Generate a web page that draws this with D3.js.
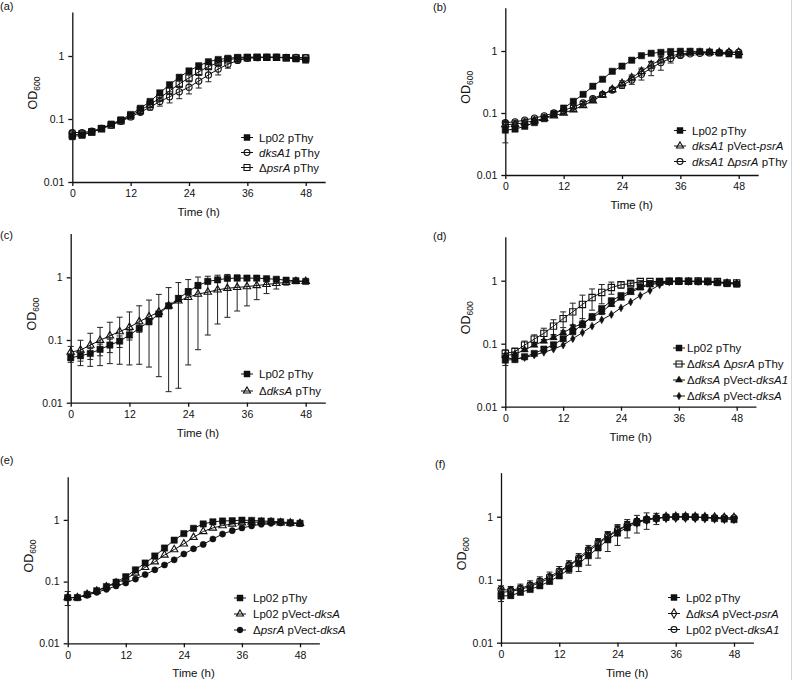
<!DOCTYPE html>
<html>
<head>
<meta charset="utf-8">
<script src="https://cdn.jsdelivr.net/npm/d3@7"></script>
<style>
  body { margin: 0; background: #fff; }
  svg { font-family: "Liberation Sans", Arial, sans-serif; }
</style>
</head>
<body>
<div id="chart"></div>
<script>
// sampling times (h)
const hours = [0, 2, 4, 6, 8, 10, 12, 14, 16, 18, 20, 22, 24, 26, 28, 30, 32, 34, 36, 38, 40, 42, 44, 46, 48];

// (a)
const aLabels = ["Lp02 pThy", "_dksA1_ pThy", "Δ_psrA_ pThy"];
const aLp02 = [0.053, 0.055, 0.062, 0.071, 0.083, 0.097, 0.118, 0.148, 0.19, 0.26, 0.35, 0.46, 0.58, 0.70, 0.81, 0.88, 0.92, 0.95, 0.96, 0.96, 0.96, 0.96, 0.93, 0.90, 0.86];
const aLp02Sd = [0.006, 0.004, 0.003, 0.003, 0.004, 0.005, 0.006, 0.008, 0.01, 0.015, 0.02, 0.025, 0.03, 0.03, 0.03, 0.03, 0.03, 0.02, 0.02, 0.02, 0.02, 0.02, 0.02, 0.02, 0.02];
const aDksA1 = [0.061, 0.061, 0.064, 0.071, 0.08, 0.092, 0.108, 0.128, 0.154, 0.19, 0.225, 0.27, 0.32, 0.40, 0.50, 0.62, 0.74, 0.85, 0.92, 0.94, 0.95, 0.95, 0.95, 0.95, 0.94];
const aDksA1Sd = [0.005, 0.003, 0.003, 0.003, 0.004, 0.005, 0.006, 0.01, 0.015, 0.03, 0.045, 0.06, 0.07, 0.09, 0.11, 0.12, 0.1, 0.06, 0.03, 0.02, 0.02, 0.02, 0.02, 0.02, 0.02];
const aPsrA = [0.056, 0.058, 0.062, 0.07, 0.08, 0.094, 0.112, 0.138, 0.17, 0.215, 0.28, 0.36, 0.45, 0.56, 0.68, 0.79, 0.87, 0.92, 0.94, 0.95, 0.95, 0.95, 0.94, 0.93, 0.93];
const aPsrASd = [0.004, 0.003, 0.003, 0.003, 0.004, 0.005, 0.006, 0.01, 0.015, 0.02, 0.03, 0.04, 0.05, 0.05, 0.05, 0.04, 0.03, 0.02, 0.02, 0.02, 0.02, 0.02, 0.02, 0.02, 0.02];

// (b)
const bLabels = ["Lp02 pThy", "_dksA1_ pVect-_psrA_", "_dksA1_ Δ_psrA_ pThy"];
const bLp02 = [0.053, 0.055, 0.061, 0.07, 0.081, 0.097, 0.12, 0.154, 0.2, 0.27, 0.35, 0.47, 0.57, 0.71, 0.84, 0.92, 0.95, 0.98, 0.99, 0.99, 0.98, 0.96, 0.93, 0.90, 0.86];
const bLp02Sd = [0.02, 0.004, 0.003, 0.003, 0.004, 0.005, 0.006, 0.008, 0.01, 0.015, 0.02, 0.02, 0.02, 0.02, 0.02, 0.02, 0.02, 0.02, 0.02, 0.02, 0.02, 0.02, 0.02, 0.02, 0.02];
const bPvPsrA = [0.065, 0.066, 0.07, 0.075, 0.082, 0.09, 0.1, 0.113, 0.132, 0.158, 0.195, 0.24, 0.30, 0.37, 0.47, 0.60, 0.72, 0.83, 0.90, 0.93, 0.94, 0.95, 0.95, 0.95, 0.95];
const bPvPsrASd = [0.005, 0.003, 0.003, 0.003, 0.004, 0.005, 0.006, 0.007, 0.008, 0.01, 0.015, 0.02, 0.03, 0.04, 0.06, 0.08, 0.08, 0.06, 0.04, 0.02, 0.02, 0.02, 0.02, 0.02, 0.02];
const bDblPsrA = [0.07, 0.072, 0.077, 0.083, 0.09, 0.1, 0.11, 0.125, 0.145, 0.17, 0.2, 0.235, 0.28, 0.34, 0.42, 0.53, 0.65, 0.76, 0.85, 0.90, 0.92, 0.93, 0.94, 0.95, 0.96];
const bDblPsrASd = [0.005, 0.003, 0.003, 0.003, 0.004, 0.005, 0.006, 0.007, 0.008, 0.01, 0.015, 0.02, 0.03, 0.05, 0.08, 0.13, 0.16, 0.12, 0.06, 0.03, 0.02, 0.02, 0.02, 0.02, 0.02];

// (c)
const cLabels = ["Lp02 pThy", "Δ_dksA_ pThy"];
const cLp02 = [0.052, 0.056, 0.061, 0.071, 0.083, 0.096, 0.12, 0.153, 0.196, 0.26, 0.35, 0.46, 0.59, 0.74, 0.86, 0.91, 0.96, 0.97, 0.97, 0.97, 0.95, 0.93, 0.90, 0.88, 0.86];
const cLp02Sd = [0.008, 0.01, 0.012, 0.015, 0.02, 0.02, 0.02, 0.02, 0.02, 0.02, 0.03, 0.05, 0.07, 0.08, 0.07, 0.06, 0.05, 0.04, 0.03, 0.03, 0.02, 0.02, 0.02, 0.02, 0.02];
const cDksA = [0.064, 0.069, 0.083, 0.099, 0.117, 0.136, 0.16, 0.196, 0.235, 0.28, 0.35, 0.42, 0.48, 0.54, 0.58, 0.63, 0.67, 0.69, 0.71, 0.74, 0.77, 0.80, 0.83, 0.86, 0.86];
const cDksASd = [0.015, 0.03, 0.045, 0.06, 0.075, 0.095, 0.12, 0.155, 0.198, 0.254, 0.335, 0.403, 0.44, 0.47, 0.46, 0.45, 0.44, 0.40, 0.36, 0.30, 0.22, 0.15, 0.08, 0.05, 0.03];

// (d)
const dLabels = ["Lp02 pThy", "Δ_dksA_ Δ_psrA_ pThy", "Δ_dksA_ pVect-_dksA1_", "Δ_dksA_ pVect-_dksA_"];
const dLp02 = [0.055, 0.056, 0.062, 0.07, 0.082, 0.096, 0.12, 0.155, 0.2, 0.27, 0.36, 0.48, 0.58, 0.69, 0.80, 0.90, 0.95, 0.98, 0.99, 0.98, 0.97, 0.96, 0.93, 0.90, 0.88];
const dLp02Sd = [0.01, 0.004, 0.004, 0.004, 0.005, 0.006, 0.008, 0.01, 0.015, 0.02, 0.03, 0.03, 0.03, 0.03, 0.03, 0.02, 0.02, 0.02, 0.02, 0.02, 0.02, 0.02, 0.02, 0.02, 0.02];
const dDblPsrA = [0.07, 0.075, 0.095, 0.118, 0.146, 0.19, 0.25, 0.32, 0.42, 0.54, 0.65, 0.78, 0.86, 0.90, 0.97, 0.97, 0.97, 0.98, 0.98, 0.98, 0.99, 0.98, 0.97, 0.92, 0.92];
const dDblPsrASd = [0.01, 0.01, 0.015, 0.02, 0.03, 0.05, 0.07, 0.12, 0.17, 0.2, 0.22, 0.17, 0.1, 0.06, 0.04, 0.03, 0.02, 0.02, 0.02, 0.02, 0.02, 0.02, 0.02, 0.02, 0.02];
const dPvDksA1 = [0.065, 0.068, 0.08, 0.095, 0.11, 0.125, 0.15, 0.18, 0.21, 0.26, 0.32, 0.42, 0.53, 0.65, 0.77, 0.86, 0.92, 0.96, 0.97, 0.97, 0.96, 0.95, 0.93, 0.92, 0.90];
const dPvDksA1Sd = [0.005, 0.004, 0.004, 0.005, 0.006, 0.008, 0.01, 0.015, 0.02, 0.025, 0.03, 0.03, 0.03, 0.03, 0.03, 0.02, 0.02, 0.02, 0.02, 0.02, 0.02, 0.02, 0.02, 0.02, 0.02];
const dPvDksA = [0.06, 0.057, 0.06, 0.066, 0.073, 0.082, 0.095, 0.12, 0.15, 0.19, 0.24, 0.29, 0.37, 0.46, 0.58, 0.70, 0.86, 0.95, 0.98, 0.97, 0.97, 0.96, 0.95, 0.93, 0.91];

// (e)
const eLabels = ["Lp02 pThy", "Lp02 pVect-_dksA_", "Δ_psrA_ pVect-_dksA_"];
const eLp02 = [0.055, 0.055, 0.062, 0.071, 0.083, 0.098, 0.12, 0.155, 0.2, 0.26, 0.35, 0.47, 0.60, 0.73, 0.86, 0.93, 0.96, 0.97, 0.99, 0.98, 0.96, 0.95, 0.93, 0.90, 0.88];
const eLp02Sd = [0.014, 0.004, 0.003, 0.003, 0.004, 0.005, 0.006, 0.008, 0.01, 0.015, 0.02, 0.02, 0.02, 0.02, 0.02, 0.02, 0.02, 0.02, 0.02, 0.02, 0.02, 0.02, 0.02, 0.02, 0.02];
const ePvDksA = [0.055, 0.055, 0.062, 0.07, 0.082, 0.095, 0.11, 0.138, 0.17, 0.21, 0.27, 0.33, 0.41, 0.52, 0.65, 0.74, 0.81, 0.86, 0.90, 0.92, 0.92, 0.92, 0.90, 0.89, 0.88];
const ePsrAPvDksA = [0.055, 0.055, 0.06, 0.067, 0.075, 0.085, 0.095, 0.11, 0.13, 0.155, 0.186, 0.225, 0.28, 0.34, 0.40, 0.49, 0.59, 0.67, 0.74, 0.80, 0.85, 0.88, 0.89, 0.88, 0.87];

// (f)
const fLabels = ["Lp02 pThy", "Δ_dksA_ pVect-_psrA_", "Lp02 pVect-_dksA1_"];
const fLp02 = [0.055, 0.056, 0.063, 0.07, 0.08, 0.094, 0.115, 0.147, 0.18, 0.24, 0.32, 0.43, 0.55, 0.68, 0.80, 0.89, 0.94, 0.98, 1.0, 1.0, 0.99, 0.97, 0.94, 0.92, 0.90];
const fLp02Sd = [0.01, 0.005, 0.005, 0.005, 0.006, 0.008, 0.01, 0.02, 0.045, 0.07, 0.1, 0.15, 0.2, 0.22, 0.25, 0.26, 0.19, 0.1, 0.05, 0.03, 0.02, 0.02, 0.02, 0.02, 0.02];
const fPvPsrA = [0.063, 0.065, 0.07, 0.078, 0.09, 0.105, 0.13, 0.165, 0.21, 0.28, 0.37, 0.48, 0.60, 0.72, 0.83, 0.90, 0.95, 0.98, 0.99, 0.99, 0.98, 0.97, 0.96, 0.95, 0.95];
const fPvPsrASd = [0.01, 0.008, 0.01, 0.012, 0.014, 0.016, 0.02, 0.025, 0.035, 0.045, 0.06, 0.08, 0.1, 0.12, 0.1, 0.08, 0.06, 0.04, 0.03, 0.03, 0.03, 0.03, 0.03, 0.03, 0.04];
const fPvDksA1 = [0.07, 0.068, 0.073, 0.082, 0.095, 0.112, 0.137, 0.17, 0.22, 0.30, 0.39, 0.50, 0.62, 0.74, 0.84, 0.91, 0.95, 0.98, 0.99, 0.99, 0.98, 0.97, 0.96, 0.96, 0.96];
const fPvDksA1Sd = [0.01, 0.01, 0.012, 0.014, 0.016, 0.02, 0.025, 0.03, 0.04, 0.05, 0.06, 0.08, 0.1, 0.1, 0.08, 0.06, 0.04, 0.03, 0.03, 0.03, 0.03, 0.03, 0.03, 0.04, 0.04];

const yTicks = [0.01, 0.1, 1];
const yTickLabels = ["0.01", "0.1", "1"];
const xTicks = [0, 12, 24, 36, 48];

const panels = [
  { tag: "(a)", tagX: 0, tagY: 10, x0: 72.3, x48: 305.7, yb: 182, dec: 63, lx: 247, tx: 259, ly: 167.5, gap: 15,
    series: [
      { label: aLabels[0], v: aLp02, sd: aLp02Sd, sym: "square", fill: true },
      { label: aLabels[1], v: aDksA1, sd: aDksA1Sd, sym: "circle", fill: false },
      { label: aLabels[2], v: aPsrA, sd: aPsrASd, sym: "square", fill: false }
    ] },
  { tag: "(b)", tagX: 433, tagY: 11, x0: 505.3, x48: 738.7, yb: 175, dec: 62, lx: 680, tx: 692, ly: 161.5, gap: 15.5,
    series: [
      { label: bLabels[0], v: bLp02, sd: bLp02Sd, sym: "square", fill: true },
      { label: bLabels[1], v: bPvPsrA, sd: bPvPsrASd, sym: "triangle", fill: false },
      { label: bLabels[2], v: bDblPsrA, sd: bDblPsrASd, sym: "circle", fill: false }
    ] },
  { tag: "(c)", tagX: 0, tagY: 239, x0: 70.7, x48: 305.7, yb: 402.7, dec: 62.7, lx: 247, tx: 259, ly: 391, gap: 17,
    series: [
      { label: cLabels[0], v: cLp02, sd: cLp02Sd, sym: "square", fill: true },
      { label: cLabels[1], v: cDksA, sd: cDksASd, sym: "triangle", fill: false }
    ] },
  { tag: "(d)", tagX: 433, tagY: 240, x0: 505.3, x48: 736.7, yb: 406.7, dec: 63, lx: 679, tx: 687, ly: 396, gap: 16,
    series: [
      { label: dLabels[0], v: dLp02, sd: dLp02Sd, sym: "square", fill: true },
      { label: dLabels[1], v: dDblPsrA, sd: dDblPsrASd, sym: "square", fill: false },
      { label: dLabels[2], v: dPvDksA1, sd: dPvDksA1Sd, sym: "triangle", fill: true },
      { label: dLabels[3], v: dPvDksA, sd: null, sym: "diamondSmall", fill: true }
    ] },
  { tag: "(e)", tagX: 0, tagY: 464, x0: 67.7, x48: 300, yb: 643.3, dec: 61.7, lx: 240, tx: 253, ly: 630, gap: 16,
    series: [
      { label: eLabels[0], v: eLp02, sd: eLp02Sd, sym: "square", fill: true },
      { label: eLabels[1], v: ePvDksA, sd: null, sym: "triangle", fill: false },
      { label: eLabels[2], v: ePsrAPvDksA, sd: null, sym: "circle", fill: true }
    ] },
  { tag: "(f)", tagX: 435, tagY: 468, x0: 501, x48: 734, yb: 642.7, dec: 63, lx: 674, tx: 686, ly: 629.5, gap: 16,
    series: [
      { label: fLabels[0], v: fLp02, sd: fLp02Sd, sym: "square", fill: true },
      { label: fLabels[1], v: fPvPsrA, sd: fPvPsrASd, sym: "diamond", fill: false },
      { label: fLabels[2], v: fPvDksA1, sd: fPvDksA1Sd, sym: "circle", fill: false }
    ] }
];

const ink = "#111";

const svg = d3.select("#chart")
  .append("svg")
  .attr("width", 794)
  .attr("height", 680);

svg.append("rect").attr("width", 794).attr("height", 680).attr("fill", "#fff");

// faint frame line at the right edge of the page
svg.append("line")
  .attr("x1", 791.5).attr("x2", 791.5).attr("y1", 0).attr("y2", 680)
  .attr("stroke", "#d4d4d4").attr("stroke-width", 1);

const symbolTypes = {
  square: [d3.symbolSquare, 40],
  circle: [d3.symbolCircle, 30],
  triangle: [d3.symbolTriangle, 24],
  diamond: [d3.symbolDiamond, 28],
  diamondSmall: [d3.symbolDiamond, 18]
};

function marker(sel, s, k = 1) {
  const t = symbolTypes[s.sym];
  sel.attr("d", d3.symbol().type(t[0]).size(t[1] * k)())
    .attr("fill", s.fill ? ink : "none")
    .attr("stroke", ink)
    .attr("stroke-width", s.fill ? 0.5 : 1.1);
}

// "_x_" marks italic parts of a strain name
function richText(sel, str) {
  str.split("_").forEach((part, i) => {
    if (!part) return;
    sel.append("tspan")
      .attr("font-style", i % 2 ? "italic" : "normal")
      .text(part);
  });
}

panels.forEach(p => {
  const x = d3.scaleLinear()
    .domain([0, 52])
    .range([p.x0, p.x0 + (p.x48 - p.x0) * 52 / 48]);
  const y = d3.scaleLog()
    .domain([0.01, 5])
    .range([p.yb, p.yb - p.dec * Math.log10(500)]);

  const g = svg.append("g");

  // panel tag
  g.append("text")
    .attr("x", p.tagX).attr("y", p.tagY)
    .attr("font-size", 11).attr("fill", ink)
    .text(p.tag);

  // axes
  const yAxis = g.append("g")
    .attr("transform", `translate(${p.x0},0)`)
    .call(d3.axisLeft(y).tickValues(yTicks)
      .tickFormat((d, i) => yTickLabels[i])
      .tickSize(4).tickSizeOuter(0).tickPadding(4));
  const xAxis = g.append("g")
    .attr("transform", `translate(0,${p.yb})`)
    .call(d3.axisBottom(x).tickValues(xTicks)
      .tickSize(4).tickSizeOuter(0).tickPadding(4));

  [yAxis, xAxis].forEach(a => {
    a.selectAll("path, line").attr("stroke", ink).attr("stroke-width", 1.3);
    a.selectAll("text").attr("font-size", 10.5).attr("fill", ink)
      .attr("font-family", "Liberation Sans, Arial, sans-serif");
  });

  // axis titles
  g.append("text")
    .attr("x", (x.range()[0] + x.range()[1]) / 2)
    .attr("y", p.yb + 34)
    .attr("text-anchor", "middle")
    .attr("font-size", 11.5).attr("fill", ink)
    .text("Time (h)");

  const yMid = (y.range()[0] + y.range()[1]) / 2 - 4;
  const od = g.append("text")
    .attr("transform", `translate(${p.x0 - 35},${yMid}) rotate(-90)`)
    .attr("text-anchor", "middle")
    .attr("font-size", 12.5).attr("fill", ink);
  od.append("tspan").text("OD");
  od.append("tspan").attr("font-size", 8.5).attr("dy", 3).text("600");

  const line = d3.line()
    .x((d, i) => x(hours[i]))
    .y(d => y(d));

  // error bars
  p.series.forEach(s => {
    if (!s.sd) return;
    const eb = g.append("g").attr("stroke", "#222").attr("stroke-width", 1);
    s.v.forEach((v, i) => {
      const lo = Math.max(v - s.sd[i], 0.0102);
      const hi = v + s.sd[i];
      const cx = x(hours[i]);
      eb.append("line").attr("x1", cx).attr("x2", cx).attr("y1", y(lo)).attr("y2", y(hi));
      eb.append("line").attr("x1", cx - 3).attr("x2", cx + 3).attr("y1", y(lo)).attr("y2", y(lo));
      eb.append("line").attr("x1", cx - 3).attr("x2", cx + 3).attr("y1", y(hi)).attr("y2", y(hi));
    });
  });

  // lines and markers (first series ends up on top)
  p.series.forEach(s => {
    g.append("path")
      .datum(s.v)
      .attr("d", line)
      .attr("fill", "none")
      .attr("stroke", ink)
      .attr("stroke-width", 1);
  });
  p.series.slice().reverse().forEach(s => {
    g.append("g").selectAll("path")
      .data(s.v)
      .join("path")
      .attr("transform", (d, i) => `translate(${x(hours[i])},${y(d)})`)
      .call(marker, s);
  });

  // legend
  const n = p.series.length;
  p.series.forEach((s, i) => {
    const ry = p.ly - (n - 1 - i) * p.gap;
    g.append("line")
      .attr("x1", p.lx - 6).attr("x2", p.lx + 6)
      .attr("y1", ry).attr("y2", ry)
      .attr("stroke", ink).attr("stroke-width", 1);
    g.append("path")
      .attr("transform", `translate(${p.lx},${ry})`)
      .call(marker, s, 0.9);
    const t = g.append("text")
      .attr("x", p.tx).attr("y", ry + 4.2)
      .attr("font-size", 11.5).attr("fill", ink);
    richText(t, s.label);
  });
});
</script>
</body>
</html>
